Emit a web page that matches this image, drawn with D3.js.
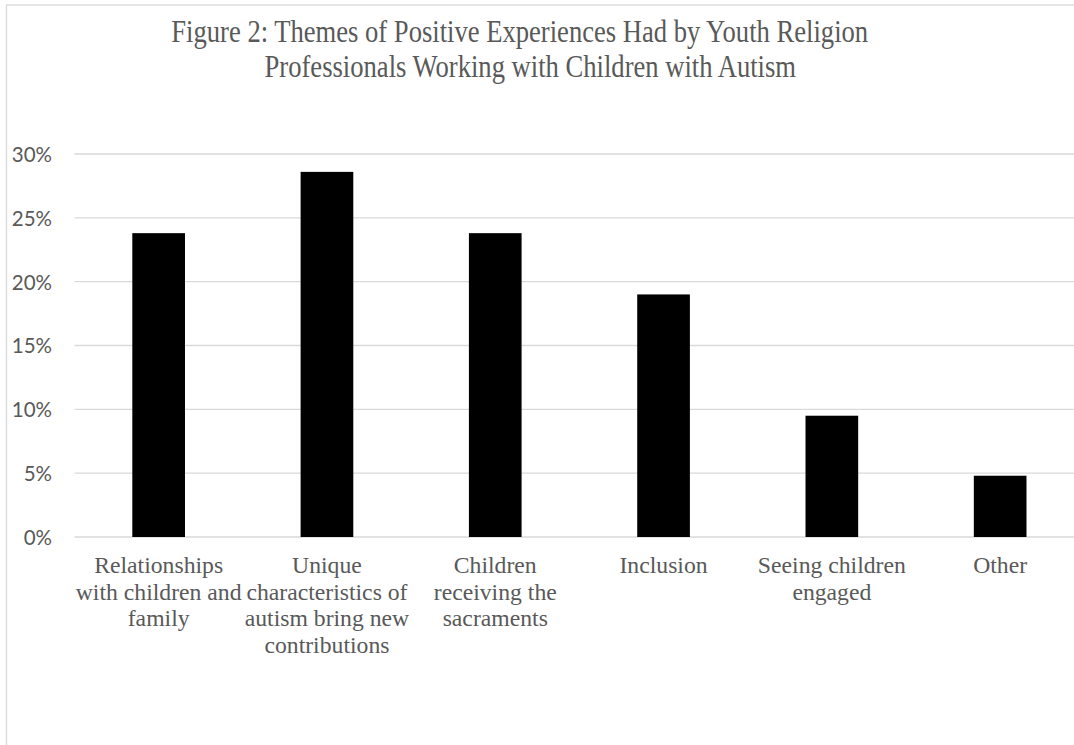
<!DOCTYPE html>
<html>
<head>
<meta charset="utf-8">
<script src="https://cdn.jsdelivr.net/npm/d3@7"></script>
<style>
  html, body { margin: 0; padding: 0; background: #ffffff; overflow: hidden; }
  svg { display: block; }
</style>
</head>
<body>
<svg id="chart" width="1074" height="745"></svg>
<script>
// Share of respondents mentioning each theme
const categories = [
  "Relationships with children and family",
  "Unique characteristics of autism bring new contributions",
  "Children receiving the sacraments",
  "Inclusion",
  "Seeing children engaged",
  "Other"
];
const values = [0.238, 0.286, 0.238, 0.190, 0.095, 0.048];
const yTicks = [0, 0.05, 0.10, 0.15, 0.20, 0.25, 0.30];
const titleLines = [
  "Figure 2: Themes of Positive Experiences Had by Youth Religion",
  "Professionals Working with Children with Autism"
];

const svg = d3.select("#chart");
const textColor = "#595959";
const gridColor = "#d9d9d9";

// Chart frame (runs off the right and bottom edges)
svg.append("rect")
  .attr("x", 6.5).attr("y", 5)
  .attr("width", 1300).attr("height", 1000)
  .attr("fill", "none")
  .attr("stroke", gridColor)
  .attr("stroke-width", 1.3);

const plotLeft = 74.5, step = 168.3;
const x = d3.scaleBand()
  .domain(categories)
  .range([plotLeft, plotLeft + step * categories.length])
  .paddingInner(0.687)
  .paddingOuter(0.687 / 2);

const y = d3.scaleLinear().domain([0, 0.30]).range([537, 154]);

// Horizontal gridlines
svg.append("g")
  .selectAll("line")
  .data(yTicks)
  .join("line")
  .attr("x1", plotLeft)
  .attr("x2", plotLeft + step * categories.length)
  .attr("y1", d => y(d))
  .attr("y2", d => y(d))
  .attr("stroke", gridColor)
  .attr("stroke-width", 1.3);

// Y axis labels
const yAxis = d3.axisLeft(y)
  .tickValues(yTicks)
  .tickFormat(d3.format(".0%"))
  .tickSize(0)
  .tickPadding(0);

const yg = svg.append("g")
  .attr("transform", "translate(52,0)")
  .call(yAxis);
yg.select(".domain").remove();
yg.selectAll("text")
  .attr("fill", textColor)
  .attr("font-family", "Lato, 'Open Sans', sans-serif")
  .attr("font-size", "20.5px")
  .attr("dy", "0.36em");

// Bars
svg.append("g")
  .selectAll("rect")
  .data(values)
  .join("rect")
  .attr("x", (d, i) => x(categories[i]))
  .attr("width", x.bandwidth())
  .attr("y", d => y(d))
  .attr("height", d => y(0) - y(d))
  .attr("fill", "#000000");

// Category labels, word-wrapped to the band width
const catFont = "23.7px 'Liberation Serif', 'Times New Roman', serif";
const ctx = document.createElement("canvas").getContext("2d");
ctx.font = catFont;
function wrap(text, width) {
  const words = text.split(" ");
  const lines = [];
  let line = "";
  words.forEach(w => {
    const test = line ? line + " " + w : w;
    if (line && ctx.measureText(test).width > width) {
      lines.push(line);
      line = w;
    } else {
      line = test;
    }
  });
  if (line) lines.push(line);
  return lines;
}

const labels = svg.append("g")
  .selectAll("text")
  .data(categories)
  .join("text")
  .attr("text-anchor", "middle")
  .attr("fill", textColor)
  .style("font", catFont)
  .attr("transform", d => `translate(${x(d) + x.bandwidth() / 2},573.3)`);

labels.each(function(d) {
  const lines = wrap(d, x.step());
  d3.select(this).selectAll("tspan")
    .data(lines)
    .join("tspan")
    .attr("x", 0)
    .attr("y", (l, i) => i * 26.6)
    .text(l => l);
});

// Title
const titlePos = [[519.7, 41.7], [530.3, 76.7]];
svg.append("g")
  .selectAll("text")
  .data(titleLines)
  .join("text")
  .attr("transform", (d, i) => `translate(${titlePos[i][0]},${titlePos[i][1]}) scale(1,1.2)`)
  .attr("text-anchor", "middle")
  .attr("fill", textColor)
  .attr("font-family", "'Liberation Serif', 'Times New Roman', serif")
  .attr("font-size", "26.6px")
  .text(d => d);
</script>
</body>
</html>
